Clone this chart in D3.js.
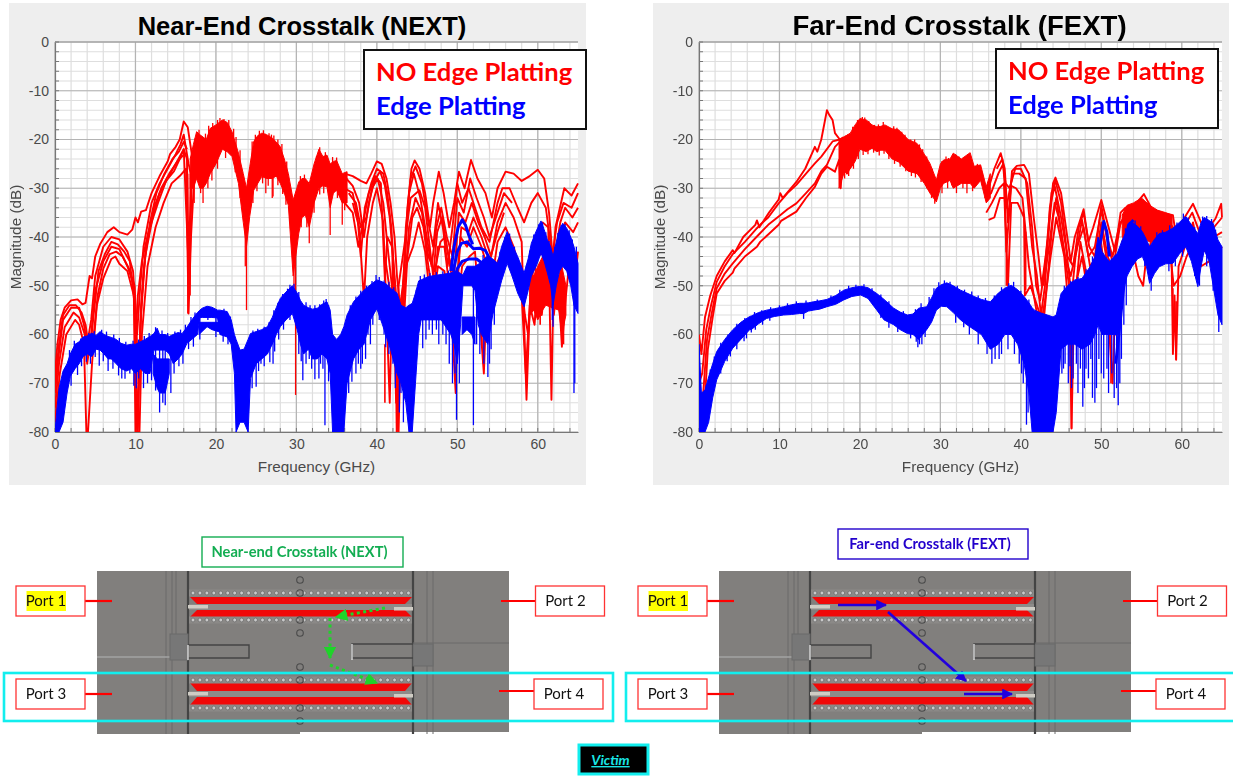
<!DOCTYPE html>
<html><head><meta charset="utf-8">
<script src="https://cdnjs.cloudflare.com/ajax/libs/d3/7.8.5/d3.min.js"></script>
<style>html,body{margin:0;padding:0;background:#fff}svg{display:block;filter:blur(.45px)}</style>
</head><body><div id="c"></div>
<script>
const yTicks=[0,-10,-20,-30,-40,-50,-60,-70,-80];
const xTicks=[0,10,20,30,40,50,60];
const xLabel="Frequency (GHz)", yLabel="Magnitude (dB)";
const legendLabels=["NO Edge Platting","Edge Platting"];
const titles=["Near-End Crosstalk (NEXT)","Far-End Crosstalk (FEXT)"];
const RED="#ff0000",BLUE="#0000ff";

/* ---------- NEXT: individual red traces [GHz, dB] ---------- */
const nextRedA=[[0,-68],[.3,-62],[.7,-57],[1.2,-54.5],[2,-53],[2.8,-52.8],[3.4,-53.8],[3.8,-53.5],[4.3,-48],[4.6,-48.5],[5,-44],[5.6,-41.5],[6.5,-39],[7.3,-38],[8,-39],[9,-39.5],[9.6,-38.5],[10,-36],[10.3,-37],[10.7,-34.8],[11.3,-34.5],[12,-31],[13,-27.5],[14,-24.5],[14.3,-23],[15,-21.5],[15.5,-20],[16,-16.3],[16.5,-17.5],[17,-23],[17.5,-26],[18,-20.5]];
const nextRedB=[[0,-72],[.4,-65],[1,-57],[2,-54.5],[3,-54.5],[3.6,-58],[4,-62],[4.5,-57],[5,-48],[6,-42],[7,-40],[8,-40.5],[9,-43],[9.7,-47],[10.2,-60],[10.6,-50],[11,-42],[12,-33],[13,-29],[14,-26],[15,-23],[15.6,-21],[16,-19],[16.6,-25],[17,-28],[17.6,-21]];
const nextRedC=[[0,-75],[.5,-66],[1.2,-58.5],[2.3,-55.5],[3,-56.5],[3.7,-60],[4,-66],[4.5,-60],[5,-51],[6,-45],[7,-42],[8,-42.5],[9,-46],[9.8,-50],[10.2,-80],[10.7,-56],[11.2,-44],[12.2,-35.5],[13,-31],[14,-28],[15,-25],[16,-22],[16.4,-24],[16.6,-45],[16.9,-30],[17.3,-24]];
const nextRedD=[[0,-78],[.6,-68],[1.4,-60],[2.5,-57],[3,-58],[3.6,-62],[3.9,-80],[4.1,-80],[4.6,-66],[5.2,-54],[6,-48.5],[7,-44.5],[7.5,-44],[8,-45.5],[9,-47],[9.8,-52],[10,-80],[10.5,-80],[10.8,-60],[11.5,-46],[12.5,-38],[13.5,-33],[14.5,-29],[15.5,-27.5],[16.3,-26],[16.6,-55.7],[16.9,-40],[17.3,-28]];
const nextRedE=[[10,-62],[10.3,-52],[10.8,-45],[11.6,-39],[12.8,-33],[13.8,-28.5],[14.8,-26.5],[15.5,-24],[16,-22],[16.7,-50],[17,-27],[17.6,-23]];
const nextRedK=[[0,-70],[.5,-62],[1,-56],[1.8,-54],[2.6,-54],[3.3,-55.5],[3.8,-58],[4.3,-64],[4.8,-56],[5.4,-47],[6.2,-43.5],[7,-41],[7.8,-41.5],[8.6,-43],[9.3,-45],[9.9,-54],[10.3,-80],[10.6,-58],[11,-47],[11.8,-37],[12.6,-31],[13.6,-27],[14.6,-24],[15.4,-22.5],[16,-20.5],[16.4,-22]];
const nextRedL=[[4.7,-62],[5.3,-52],[6,-46.5],[6.8,-43.5],[7.6,-43],[8.4,-44],[9.2,-46.5],[9.9,-50],[10.4,-70],[10.7,-54],[11.3,-42],[12.3,-34],[13.2,-30],[14.2,-27],[15.2,-24.5],[16.1,-23]];
const nextRedF=[[36,-27],[37,-27.5],[38,-28.5],[38.7,-29],[39.3,-27],[40,-24.5],[40.6,-25],[41.2,-28],[41.7,-33],[42.2,-40],[42.5,-48],[43,-56],[43.4,-48],[43.8,-34],[44.3,-26],[44.7,-24.3],[45.3,-26],[46,-31],[46.6,-38],[47,-33],[47.7,-26.6],[48.3,-31],[49,-38],[49.6,-33],[50.2,-26.6],[50.9,-30],[51.7,-24.2],[52.5,-28],[53.5,-31],[54.3,-36],[55,-30],[56,-26.6],[57,-27],[58,-28.5],[59,-27.5],[60,-26.2],[60.8,-28],[61.4,-35],[61.9,-45],[62.2,-38],[63.3,-30],[64.2,-31.5],[65,-29]];
const nextRedG=[[36,-30],[37,-31],[37.6,-36],[38,-44],[38.5,-34],[39.3,-29],[40,-26],[40.8,-27],[41.3,-31],[41.8,-38],[42.4,-55],[42.7,-80],[43,-60],[43.6,-38],[44.2,-28],[44.8,-25.5],[45.6,-29],[46.4,-37],[47,-42],[47.6,-33],[48.2,-38],[48.8,-46],[49.4,-38],[50,-29],[50.6,-33],[51.4,-30],[52.2,-34],[53,-38],[54,-41],[55,-33],[55.6,-30],[56.5,-30],[57.5,-34],[58.3,-37],[59.2,-33],[60,-31],[61,-34],[61.8,-44],[62.4,-37],[63.2,-33],[64.2,-34],[65,-31]];
const nextRedH=[[36,-33],[37,-35],[37.7,-42],[38.3,-37],[39,-31],[39.8,-27.5],[40.5,-29],[41,-48.8],[41.3,-40],[41.9,-42],[42.4,-74],[42.7,-50],[43.4,-42],[44.2,-32],[45.3,-30.4],[46,-34],[46.5,-41],[47,-48],[47.5,-39],[48.1,-36],[48.8,-43],[49.6,-48],[50.2,-35],[51,-37],[51.8,-33],[52.6,-37],[53.4,-40],[54.2,-44],[55,-37],[56,-33],[57,-36],[58,-41],[58.6,-73.4],[59.1,-50],[59.8,-40],[60.6,-37],[61.3,-38],[61.7,-73.4],[62,-45],[62.8,-37],[63.4,-34],[64.3,-36],[65,-34]];
const nextRedI=[[37,-33],[37.8,-38],[38.4,-52.9],[38.8,-40],[39.5,-33],[40,-30],[40.8,-37],[41.3,-60],[41.6,-74],[42,-45],[42.6,-60],[43.2,-62],[43.8,-44],[44.4,-36],[45,-34],[45.8,-38],[46.4,-46],[47,-52],[47.6,-42],[48.4,-42],[49,-50],[49.8,-56],[50.4,-40],[51.2,-42],[52,-38],[53,-42],[53.7,-46],[54.4,-48],[55,-41],[56,-38],[57,-42],[57.8,-47],[58.4,-56],[58.8,-60],[59.4,-47],[60,-44],[60.8,-43],[61.5,-47],[62,-50],[62.6,-41],[63.4,-37],[64.4,-39],[65,-37]];
const nextRedJ=[[41,-44],[41.7,-52],[42.3,-58],[42.5,-80],[42.8,-55],[43.6,-46],[44.5,-42],[45.2,-37],[46,-43],[46.8,-55],[47.6,-46],[48.4,-47],[49,-55],[49.4,-60],[49.8,-72],[50,-55],[50.6,-46],[51.5,-44],[52.2,-43],[53.3,-68],[53.7,-50],[54.4,-52],[55,-45],[56,-42],[57,-46],[58,-52],[58.5,-68],[59,-54],[59.6,-58],[60,-49],[60.5,-56],[61,-48],[61.5,-52],[62,-56],[62.5,-48],[63,-62.5],[63.5,-52],[64,-44],[64.8,-46],[65,-43]];
const nextRedM=[[36.2,-28],[37,-29.5],[37.8,-33],[38.4,-40],[39,-33],[39.7,-28.5],[40.4,-26.5],[41,-29.5],[41.6,-36],[42.1,-46],[42.4,-52],[42.9,-58],[43.5,-44],[44,-31],[44.6,-27],[45.4,-32],[46.2,-40],[46.8,-46],[47.4,-38],[48,-34],[48.7,-40],[49.4,-44],[50,-32],[50.8,-35],[51.6,-28],[52.4,-32],[53.3,-36],[54,-40],[55,-35],[55.8,-31],[56.8,-33]];
const nextRedN=[[36.5,-31],[37.4,-33],[38,-38],[38.7,-36],[39.4,-30],[40.1,-28],[40.8,-33],[41.4,-43],[42,-52],[42.8,-62],[43.4,-52],[44,-38],[44.8,-32],[45.6,-35],[46.4,-44],[47.2,-47],[47.9,-41],[48.5,-40],[49.2,-47],[49.8,-52],[50.5,-38],[51.4,-39],[52,-36],[53,-40],[54,-45],[55,-39],[55.8,-35]];

/* ---------- NEXT: red dense band [GHz, upper, lower] ---------- */
const nextRedBand=[[16.8,-24,-30],[17.2,-21,-30],[17.6,-18.4,-28],[18,-19,-30],[18.4,-19.5,-30],[18.8,-20,-29],[19.3,-17.7,-27],[20,-17,-25],[20.8,-16,-22],[21.4,-16.5,-22.5],[22,-18.4,-23.5],[22.8,-22.8,-29],[23.4,-27,-37],[23.8,-30,-42],[24.2,-25.6,-35.8],[24.7,-20.4,-30.4],[25.2,-19.2,-29],[25.7,-18.7,-27.6],[26.3,-19,-28],[27,-19.7,-28],[27.5,-20.5,-27.5],[28,-21.5,-29],[28.5,-24,-31],[29,-27,-33.5],[29.6,-32.4,-48],[30.3,-28.7,-39.2],[30.7,-28,-36],[31.1,-28,-35.5],[31.6,-29,-38],[32.2,-25,-33],[32.8,-22,-30],[33.3,-23.5,-29.5],[33.8,-23.2,-29.7],[34.2,-25,-34],[34.6,-24.5,-31],[35,-24.3,-30.4],[35.7,-27,-33],[36.3,-26.6,-33]];
const nextRedPatch=[[59,-47,-56],[59.5,-48,-55],[60,-46,-57],[60.6,-44,-55],[61,-46,-54],[62.6,-48,-55],[63,-46,-60],[63.5,-50,-56]];
const nextRedSpikes=[[16.5,-55.7],[16.8,-52],[23.8,-55],[23.65,-46],[29.9,-72.4],[29.7,-56],[31.6,-41.3],[34.2,-39.6],[35.7,-37.5],[18.4,-33],[27,-32],[41,-74],[59.2,-55],[60.3,-58],[60.8,-54],[59.7,-57],[63.2,-62],[62.8,-55],[53.2,-66],[42.45,-80],
[17.4,-19.8],[17.9,-18],[18.3,-22.9],[18.7,-18.8],[19.1,-17.2],[19.6,-16.6],[20.2,-16],[20.5,-15.6],[21,-15.8],[21.6,-16],[22.2,-17.8],[22.5,-19.5],[23,-22.2],[24.5,-20.4],[24.9,-19],[25.4,-18.2],[25.9,-18.1],[26.1,-18.8],[26.6,-18.7],[26.9,-19],[27.2,-19.2],[27.7,-20],[28.2,-20.9],[28.8,-24.5],[30.5,-27.5],[31,-27.2],[32.5,-23.4],[32.9,-21.6],[33.6,-22.6],[34.5,-23.6],[35,-23.7],
[17.3,-33],[18.1,-31],[19,-30],[19.5,-28.4],[20.2,-26],[21.2,-23.8],[22.4,-26.7],[23,-32],[24.6,-33],[25.1,-30.6],[25.8,-29],[26.2,-31],[26.5,-29.5],[27.1,-31.7],[27.7,-29.4],[28.3,-31.2],[28.7,-33.4],[29.2,-37],[30.6,-38],[31.3,-38],[32.2,-35],[32.9,-31.3],[33.4,-31],[34,-31.5],[35.1,-32],[36,-34.5]];

/* ---------- NEXT: blue dense band ---------- */
const nextBlueBand=[[0,-80,-80],[.2,-76,-80],[.5,-71,-80],[1,-67.5,-78],[1.5,-66,-72],[1.9,-64,-68.6],[2.5,-62,-67],[3,-61.5,-66],[3.5,-60.5,-64.5],[4,-60.3,-64],[4.6,-59.7,-64.5],[5.1,-60.2,-63],[5.6,-59.4,-63.2],[6.1,-60,-64],[6.6,-60.4,-65],[7,-60.6,-65],[7.6,-61,-66],[8.2,-61.8,-67],[8.9,-62.2,-67.5],[9.5,-62,-67],[10,-62,-68],[10.6,-61.5,-67],[11.2,-61,-68],[11.8,-60.4,-68],[12.3,-59.8,-63.2],[12.7,-58.7,-63.2],[13,-60,-63.2],[13.7,-60,-63.2],[14.2,-60.4,-64],[14.7,-60,-66],[15.3,-59.6,-65],[15.8,-59.8,-64],[16.4,-58.5,-61.8],[17,-57,-61],[17.7,-55.5,-60],[18,-55,-56.5],[18.3,-54.6,-56.5],[18.9,-54.2,-56.5],[19.5,-54.4,-56.5],[20.2,-55,-56.6],[20.5,-55,-60],[21.4,-55.3,-60.5],[21.9,-57,-62],[22.3,-60,-68],[22.5,-61,-80],[23,-63.2,-78],[23.5,-63,-78],[24,-61,-80],[24.3,-59.8,-69],[25,-59.4,-66],[25.7,-59,-65],[26.4,-58.4,-64],[27,-56.5,-62],[27.5,-54.5,-60],[28,-52.6,-58.4],[28.7,-51.3,-57],[29.5,-50,-55.7],[30.1,-51.5,-59],[30.5,-53,-62],[30.9,-54,-64],[31.5,-54.5,-63],[32,-54.8,-65],[32.6,-54.6,-65],[33.2,-53.8,-64],[33.8,-53.3,-65],[34.2,-55,-68],[34.5,-60,-80],[35,-61,-80],[35.5,-60,-80],[35.9,-58.4,-80],[36.3,-56,-70],[37.1,-53.3,-65],[37.8,-52,-63],[38.4,-50.9,-62],[39.2,-49.8,-57],[40,-48.8,-54.7],[40.7,-49.2,-58],[41.3,-49.8,-61],[41.7,-50.5,-63],[42.5,-51.5,-68],[43,-54,-70],[43.6,-54.5,-74],[44,-54,-80],[44.4,-53.6,-80],[44.8,-51.5,-70],[45.2,-49,-60],[45.5,-48.8,-57],[46.3,-48.2,-57],[47.1,-47.9,-57],[48,-47.7,-57],[49.2,-47.4,-60],[49.6,-47,-62],[50,-47,-66],[50.4,-47.5,-58],[50.7,-47.8,-50],[51.2,-46,-50],[51.8,-46,-50],[52.2,-46,-51],[52.6,-45.6,-58],[53,-45,-60],[53.8,-43.8,-62],[54.4,-44.5,-56],[55,-45.4,-52.2],[55.5,-42,-49],[56.2,-38.9,-45.4],[56.8,-41.5,-48],[57.5,-44,-51.5],[58.3,-47.4,-54.3],[58.8,-44.5,-51],[59.2,-41.3,-48],[59.8,-38.8,-46],[60.4,-36.7,-43.3],[60.8,-38.5,-45],[61.2,-40.6,-47.4],[61.6,-42,-50],[61.9,-44,-54],[62.3,-41,-50],[62.7,-38.5,-47],[63.1,-37.2,-46],[63.6,-38.2,-47],[64.1,-40,-50],[64.5,-42,-54],[65,-45.4,-55.7]];
const nextBlueBandHoleA=[[12.2,-64,-68],[12.7,-65,-71],[13,-65,-72],[13.7,-65,-72],[14.2,-65,-68]];
const nextBlueBandHoleB=[[17.9,-57.5,-60],[18.9,-57.5,-58.4],[19.5,-57.5,-59],[20.5,-57.5,-59.5]];
const nextBlueBandHoleC=[[50.6,-56.4,-60],[51.2,-56.4,-59],[51.8,-56.4,-60],[52.2,-56.4,-62]];
const nextBlueSpikes=[[6.6,-67.5],[8.3,-69],[10.1,-71],[11,-71],[13,-76],[13.7,-74.5],[14.4,-72],[19,-57],[25.6,-66],[25,-70.7],[27.1,-66],[30.8,-69.4],[31.9,-67],[32.8,-69],[33.55,-78.6],[36.9,-69.7],[38.2,-66],[39.2,-62],[42.8,-76],[43.3,-78],[49.9,-77.5],[50.25,-70],[52,-78.6],[53.8,-68.7],[61.9,-58.4],[64.5,-72],[61.8,-57],[64.6,-70],
[2,-70.5],[2.8,-68.3],[3.3,-66.5],[3.9,-65.6],[4.4,-66],[5,-64.6],[5.5,-66.4],[6,-65.5],[7.2,-67],[7.9,-68.4],[8.7,-69.1],[9.3,-68],[9.8,-70.5],[10.4,-69],[11.5,-70],[12,-69.4],[12.5,-71.5],[13.4,-74],[14.8,-68],[15.4,-66.5],[15.9,-66],[16.6,-63],[17.2,-62.5],[18,-61],[20,-60.5],[20.9,-61.5],[21.5,-62],[24.5,-71],[25.3,-67.5],[26,-66.5],[26.7,-65.7],[27.3,-63.5],[27.8,-61],[28.4,-59],[29.2,-57],[30.3,-64],[30.6,-65.5],[31.2,-66],[31.6,-65],[32.3,-69.2],[33,-66],[33.3,-67],[34,-69.6],[36.5,-72],[37.4,-68],[37.7,-66],[38,-67],[38.6,-65],[38.9,-60],[39.5,-58],[40.3,-57],[40.9,-60],[41.1,-62.6],[41.5,-64],[42,-66],[42.3,-71],[43,-72],[45,-62],[45.7,-62.8],[46.1,-61],[46.5,-59],[46.9,-60],[47.4,-59],[47.7,-62],[48.2,-60],[48.6,-62],[49,-66],[49.4,-70],[49.7,-68],[52.4,-62],[52.8,-64],[53.3,-66],[54,-66],[54.2,-63],[54.6,-58],
[1.8,-63.2],[2.4,-61.3],[3.2,-60.8],[4.2,-59.7],[4.9,-59.3],[5.8,-59],[6.4,-59.4],[7.3,-60],[8,-60.7],[8.8,-61.5],[9.7,-61.3],[10.4,-61],[11.1,-60.3],[11.7,-59.7],[12.5,-58.5],[13.3,-59.2],[14,-59.7],[14.9,-59.4],[15.6,-59],[16.2,-58],[16.9,-56.4],[17.4,-55.5],[21,-54.7],[21.8,-56.3],[24.6,-59.2],[25.2,-58.8],[26,-58.4],[26.6,-57.5],[27.2,-55],[27.7,-53.5],[28.3,-51.7],[28.9,-50.6],[29.2,-49.8],[29.7,-49.6],[30.3,-51.3],[31.2,-53.4],[31.7,-54],[32.3,-54],[32.9,-53.8],[33.4,-53],[33.7,-52.7],[34,-54],[36.7,-54],[37.4,-52.2],[38,-51],[38.7,-50],[39.4,-49],[39.9,-47.8],[40.3,-48.2],[40.9,-48.9],[41.5,-49.2],[42.1,-50.3],[44.9,-50.8],[45.4,-48],[45.9,-47.7],[46.6,-47.4],[47.4,-47.2],[48.2,-47],[48.9,-46.9],[53.2,-43.7],[55.3,-43],[55.9,-40],[56.5,-39.3],[57.1,-42],[58.6,-45.8],[59,-42.8],[59.5,-39.5],[60.1,-37.4],[60.6,-37],[61,-39],[61.4,-40.8],[62.1,-42],[62.5,-39.2],[62.9,-37.6],[63.4,-37.4],[63.9,-38.6],[64.3,-40.5],[64.8,-42]];
const nextBlueStrandA=[[49.2,-47],[49.6,-42],[50.1,-38],[50.6,-36.5],[51,-37.5],[51.4,-39.5],[51.9,-41.5]];
const nextBlueStrandB=[[49.5,-47],[50,-43],[50.5,-41.3],[51.2,-41],[52,-42.4],[52.8,-42.3],[53.5,-42.8],[54.2,-45],[55,-46]];
const nextBlueStrandC=[[49.5,-50],[50,-46.5],[50.6,-45],[51.5,-44.5],[52.4,-44.5],[53.2,-45.5],[54,-47],[55,-49]];

/* ---------- FEXT: red traces ---------- */
const fextRedA=[[0,-60],[.3,-64],[.75,-56.4],[1.4,-52],[2.2,-48],[3.2,-45],[4.2,-42.7],[4.4,-43.3],[5.5,-40],[7,-37.5],[7.2,-36.6],[7.5,-38],[8.7,-35],[9.9,-32.3],[10.1,-31],[10.4,-32],[12.1,-28.7],[13.2,-26],[14.4,-21.5],[14.7,-22.5],[15.2,-20],[15.9,-14],[16.2,-15],[16.6,-16],[16.9,-18.7],[17.5,-20]];
const fextRedB=[[0,-70],[.4,-68],[.9,-59],[1.5,-54],[2.2,-49.2],[3.2,-46],[4.2,-43.5],[5.7,-41],[7.2,-38.2],[7.6,-37.5],[8.6,-36],[9.9,-33.1],[11,-31],[12.1,-29.3],[13.3,-27],[14.4,-24.9],[15.2,-23.5],[16.6,-20.4],[17.5,-20],[18,-19.5]];
const fextRedC=[[.4,-75],[1,-61],[1.6,-55.5],[2.2,-50.5],[3.2,-47.5],[4.2,-45.4],[5.7,-42.5],[7.2,-39.9],[8.6,-37.5],[9.9,-35.8],[11,-34.3],[12.1,-33.1],[13.3,-31],[14.4,-29],[15.2,-26.5],[15.9,-25.2],[16.9,-21.5],[17.5,-20.5],[18,-22]];
const fextRedD=[[.5,-80],[1.1,-63],[1.7,-56.5],[2.2,-51.6],[3.2,-49],[4.2,-47.3],[4.4,-46.5],[5.7,-44],[7.2,-42],[7.6,-41],[8.6,-39.5],[9.9,-37.5],[10.2,-36.7],[12.1,-34.8],[13.3,-32],[14.4,-29.7],[15.2,-27],[15.9,-25.6],[16.9,-26.6],[17.4,-24.2],[17.6,-30],[17.9,-24],[18.4,-27],[19,-25],[19.5,-22]];
const fextRedE=[[36,-30],[36.7,-26],[37.5,-22.8],[38,-26],[38.4,-37],[38.9,-26.5],[39.5,-25.4],[40.4,-25.2],[41,-27],[41.6,-36],[42.2,-44],[42.6,-50],[43.4,-40],[44,-29],[44.3,-27.8],[45,-31],[45.6,-38],[46.2,-45],[46.7,-40],[47.8,-34.3],[48.4,-41],[49,-38],[50,-32.4],[50.9,-38],[51.7,-43],[52.4,-35],[53,-34],[54.2,-33.4],[55.3,-31.2],[56.3,-34.3],[57.5,-35],[58.9,-35.5],[59.3,-40],[60.2,-36.4],[61.4,-33.2],[62.4,-37],[63.4,-38],[64.2,-36.2],[64.9,-33.2],[65,-36]];
const fextRedF=[[35.5,-32],[36.3,-31],[37.2,-27],[37.8,-25],[38.2,-34],[39,-27],[39.8,-27],[40.6,-28],[41.4,-42],[42,-48],[42.5,-56],[43,-50],[43.6,-34],[44.2,-29.5],[45,-36],[45.6,-42],[46.3,-52],[46.8,-44],[47.6,-36.5],[48.4,-44],[49.2,-42],[50,-34.5],[50.8,-41],[51.5,-46],[52.4,-37],[53.2,-36],[54.2,-34.5],[55.2,-32.5],[56,-35],[57.2,-36],[58.4,-37],[58.9,-38],[59.6,-42],[60.6,-37],[61.3,-35],[62.2,-39],[63,-40],[64,-38],[65,-36]];
const fextRedG=[[35.7,-35],[36.4,-33],[37.3,-30],[37.9,-29],[38.2,-43],[38.8,-29.5],[39.4,-30],[40.2,-32],[41,-46],[42,-55.7],[42.8,-58],[43.4,-47],[44,-36],[44.4,-32],[45.2,-41],[46,-50],[46.3,-79.3],[46.6,-55],[47.4,-41],[48.2,-48],[49.2,-46],[50,-37],[50.8,-44],[51.7,-48],[52,-58],[52.6,-41],[53.3,-38],[54.2,-36],[55.4,-34],[56.4,-38],[57.5,-38],[58.7,-40],[58.9,-64],[59.1,-52],[59.3,-65.2],[59.6,-46],[60.4,-42],[61.4,-37],[62,-42],[63,-43],[64,-40],[65,-39]];
const fextRedH=[[36,-36.5],[36.7,-36],[37.4,-32],[38,-32],[38.4,-50],[38.8,-33],[39.6,-33],[40.4,-36],[40.5,-52],[41.2,-50],[42.6,-57],[43,-53],[43.7,-44],[44.4,-36],[45.4,-44],[46,-56],[46.4,-64],[46.8,-50],[47.6,-44],[48.4,-52],[49.4,-50],[49.9,-40],[50.6,-50],[51.4,-70],[51.6,-60],[52,-60],[53,-46],[53.8,-42],[54.6,-48],[55.2,-50],[55.6,-44],[56.4,-40],[57.5,-41],[58.6,-44],[59,-50],[59.8,-48],[60.6,-44],[61.5,-41],[62.4,-46],[63.4,-45],[65,-42]];
const fextRedI=[[37,-26],[37.7,-24],[38.1,-29],[38.6,-30],[39.3,-26],[40,-26],[40.8,-29],[41.4,-38],[41.9,-50],[42.4,-53],[43,-46],[43.8,-31],[44.3,-28.5],[45,-33],[45.8,-44],[46.5,-46],[47.2,-38],[47.8,-35],[48.5,-42],[49.2,-44],[50,-33.5],[50.7,-40],[51.4,-44],[52.2,-38],[53,-35],[54,-34],[55,-33],[55.6,-33],[56.6,-35]];
const fextRedJ=[[42.8,-50],[43.5,-42],[44.2,-33],[44.7,-36],[45.5,-44],[46.2,-48],[47,-42],[47.8,-38],[48.6,-46],[49.5,-44],[50.1,-39],[50.9,-47],[51.8,-50]];
const fextRedBand=[[17.4,-20,-30],[18,-19.5,-27],[18.8,-18.7,-26],[19.4,-17,-24.5],[20,-15.7,-22],[20.8,-16,-22.5],[21.5,-17,-21.8],[22.1,-17.4,-22.5],[22.6,-17.3,-22.2],[23.1,-17,-22.2],[24,-17.8,-24],[24.8,-18,-24.6],[26,-20,-26.5],[27.1,-20.8,-27],[28,-23,-29],[28.7,-24.9,-31],[29.5,-28.3,-32.8],[30,-25,-30],[30.4,-24.2,-29],[31.2,-24,-28.4],[31.6,-22.8,-30],[32.6,-24,-29],[33.7,-22.7,-29],[34.2,-25.5,-30],[35,-25.2,-28.4],[35.7,-29.7,-33],[36.2,-27,-32]];
const fextRedBandHigh=[[52.6,-35.5,-40],[53.2,-33.5,-41],[54,-33,-40],[55,-32,-40],[56,-33.5,-41],[57,-34.5,-41],[58,-35,-41],[58.8,-35.5,-41]];
const fextRedSpikes=[[17.6,-30],[38.2,-50],[40.6,-50.9],[46.3,-79.3],[51.2,-70],[58.9,-62.5],[59.3,-65.2],[52,-58],
[18.2,-19.2],[18.5,-18.9],[19.1,-17.4],[19.7,-16],[20.3,-15.4],[20.6,-15.5],[21.1,-16.2],[21.8,-17],[22.3,-16.9],[22.9,-16.4],[23.4,-17.5],[24.2,-17.3],[24.6,-17.6],[25.2,-18.4],[25.6,-19],[26.3,-20],[26.8,-20],[27.4,-21],[27.8,-22],[28.3,-23.5],[29,-26],[30.2,-24.4],[30.7,-23.5],[31,-23.8],[31.9,-23],[32.3,-23.5],[33,-24],[33.4,-23],[34.6,-25],
[18.1,-28],[18.6,-27.5],[19.2,-26],[19.8,-24],[20.4,-23.2],[21,-23],[21.7,-22.7],[22.4,-23.3],[23,-22.9],[23.6,-24],[24.3,-25],[25,-25.6],[25.7,-26.5],[26.4,-27.5],[26.9,-27.8],[27.6,-28.7],[28.3,-30],[28.9,-32],[29.3,-33.2],[30.2,-31],[30.9,-30],[31.4,-29.4],[32,-31],[32.8,-30],[33.3,-31],[34,-30.6],[35.2,-29.4]];
const fextBlueBand=[[0,-62,-80],[.3,-72,-80],[.75,-71.4,-80],[1.2,-68.7,-78],[1.7,-66,-73],[2.2,-63.5,-69.3],[3.2,-61,-65.5],[4.2,-59,-62.8],[5.2,-57.5,-61],[6.3,-56.3,-59],[6.5,-56.2,-59],[7.4,-55.5,-57.8],[8.4,-55,-56.7],[9.4,-54.7,-56.3],[10.5,-54.3,-56],[11.5,-53.9,-55.9],[12.5,-53.6,-55.7],[13,-53.6,-55.7],[13.6,-53.5,-55.2],[14.2,-53.3,-55],[15,-53.1,-54.8],[15.9,-52.8,-54.3],[17,-52,-53.8],[18,-50.9,-52.9],[19,-50.4,-52.2],[20.1,-50.1,-51.9],[21,-50.4,-52.6],[22.1,-51.6,-55],[23,-52.8,-57],[24.2,-54.6,-58],[25,-55.4,-59],[25.9,-56,-59.8],[26.6,-55.8,-60],[27.3,-54.6,-61],[28.3,-54.3,-59],[28.9,-52.5,-57.5],[29.5,-50.5,-55],[30.1,-49.8,-54.2],[30.8,-49.4,-54.3],[31.6,-50,-55.5],[32.5,-50.9,-57],[33.3,-51.5,-58],[34.2,-52.2,-59],[35.1,-52.8,-60],[36.2,-53.3,-63],[37.2,-51.5,-62],[38,-50.5,-60],[38.8,-49.9,-60],[39.6,-50.8,-62],[40.4,-52.2,-66],[41,-53.5,-72],[41.4,-54.5,-80],[41.7,-55,-80],[42.5,-55.6,-80],[43.3,-56,-80],[44,-56.4,-80],[44.4,-56,-76],[45,-51.6,-63],[45.8,-50,-62],[46.7,-48.8,-62],[47.6,-48.5,-63],[48.6,-46.1,-62],[49.2,-44,-60],[49.6,-40,-58],[50.1,-43,-60],[50.5,-44,-60],[51,-45,-60],[52,-43.3,-60],[52.6,-40.6,-52],[53.2,-38.5,-48],[53.8,-36.9,-46.1],[54.5,-37.8,-44.5],[55.1,-38.9,-44],[55.6,-40.5,-46],[56,-42,-49.5],[56.6,-40.5,-47.5],[57.2,-39.3,-46.1],[58,-39,-45.5],[58.9,-38.2,-45.4],[59.7,-37,-43.5],[60.5,-35.8,-42],[61.2,-37.5,-45],[62,-39.3,-50.2],[62.4,-37,-46],[62.8,-36,-42.7],[63.4,-36.6,-45],[63.9,-37.2,-50],[64.5,-40.6,-56],[65,-42,-58]];
const fextBlueSpikes=[[6.5,-59.6],[13,-56.8],[27.2,-62.6],[27.4,-62],[36.4,-66],[37.3,-65],[40.7,-78.5],[40.9,-76],[42,-80],[43,-80],[45.3,-67],[46.3,-71],[47.7,-74.8],[48.9,-73],[49.2,-74],[52.1,-74.5],[63.9,-51],[64.6,-59.5],
[45.1,-68],[45.5,-66],[45.9,-70],[46.1,-66.5],[46.5,-69],[46.9,-66],[47.1,-72],[47.4,-67],[47.9,-71],[48.1,-67],[48.4,-69],[48.7,-65],[49.4,-71],[49.7,-65],[50,-68],[50.3,-69],[50.7,-67],[50.9,-72],[51.3,-68],[51.6,-73],[51.9,-71],[52.3,-70],[52.5,-65],[52.8,-58],[53.1,-54],[39.2,-64],[39.8,-66],[40.1,-68],[40.3,-70],[35.8,-64],[36.8,-65],[37.6,-64],[38.4,-63],[34.7,-62],[33.6,-60],[32.9,-58.5],[31.9,-57.6],[26.3,-60.8],[27,-61.5],[27.7,-62],[28.1,-60.5],[24.7,-59.5],[23.6,-58.6],[22.6,-56.6],[1.9,-70],[2.7,-68],[3.5,-65.5],[3.9,-64.5],[4.7,-63],[5.6,-61.4],[5.9,-60.8],[7,-59],[7.9,-58],[8.8,-57.2],[55.4,-46],[56.2,-51],[58.4,-47],[59.2,-46],[60.1,-44],[61.6,-48],[62.2,-50],[63.1,-46],
[.9,-70.4],[1.4,-67.2],[1.9,-64.5],[2.7,-61.7],[3.6,-60],[4.7,-57.8],[5.7,-56.6],[6.9,-55.4],[7.8,-55],[8.9,-54.4],[10,-54],[11,-53.6],[12.1,-53.2],[13.3,-53],[14.7,-52.8],[16.4,-52],[17.5,-50.8],[18.6,-50],[19.5,-49.8],[20.5,-49.7],[21.5,-50.5],[22.6,-51.8],[23.6,-53.2],[25.4,-55.2],[26.9,-54.8],[27.6,-53.6],[28.6,-52.3],[29.2,-50.5],[29.8,-49.3],[30.5,-48.9],[31.2,-49.2],[32.1,-50],[33,-50.8],[33.9,-51.2],[34.7,-52],[35.6,-52.5],[36.7,-52],[37.6,-50.3],[38.5,-49.5],[39.1,-49.2],[40,-51],[41,-52.8],[45.4,-50],[46.2,-49],[47.1,-48.2],[48.1,-46.6],[48.9,-44],[53,-38.2],[53.5,-37],[54.2,-36.6],[54.9,-37.8],[56.9,-39],[57.6,-38.6],[58.5,-37.6],[59.4,-37],[60.2,-35.2],[60.8,-36],[61.6,-38],[62.6,-35.8],[63.1,-35.7],[63.7,-36.3],[64.2,-38.5]];
const fextBlueStrandA=[[49.4,-46],[49.9,-41],[50.3,-36.8],[50.7,-39],[51,-44]];
const fextBlueStrandB=[[51.4,-60],[51.9,-54],[52.4,-47],[52.9,-41],[53.4,-37.5],[54,-36.5]];
const fextBlueStrandC=[[51.8,-66],[52.3,-58],[52.8,-50],[53.2,-44],[53.8,-40],[54.4,-39.5]];

/* ---------- Picture layout ---------- */
const W=1233,H=776;
const svg=d3.select("#c").append("svg").attr("width",W).attr("height",H).attr("viewBox",[0,0,W,H]);
const FONT="'Liberation Sans',Arial,sans-serif", CAL="Lato,'Open Sans',sans-serif";

function chart(o,i){
  const g=svg.append("g");
  g.append("rect").attr("x",o.panel[0]).attr("y",o.panel[1]).attr("width",o.panel[2]).attr("height",o.panel[3]).attr("fill","#eeeeee");
  const x=d3.scaleLinear().domain([0,65]).range([o.l,o.r]);
  const y=d3.scaleLinear().domain([0,-80]).range([42,432]);
  g.append("rect").attr("x",o.l).attr("y",42).attr("width",o.r-o.l).attr("height",390).attr("fill","#fff");
  const minorX=d3.range(0,66,2), minorY=d3.range(0,-81,-2);
  g.append("g").selectAll("line").data(minorX).join("line").attr("x1",x).attr("x2",x).attr("y1",42).attr("y2",432).attr("stroke","#dedede").attr("stroke-width",1.2);
  g.append("g").selectAll("line").data(minorY).join("line").attr("y1",y).attr("y2",y).attr("x1",o.l).attr("x2",o.r).attr("stroke","#dedede").attr("stroke-width",1.2);
  g.append("g").selectAll("line").data(xTicks).join("line").attr("x1",x).attr("x2",x).attr("y1",42).attr("y2",432).attr("stroke","#b4b4b4").attr("stroke-width",1.2);
  g.append("g").selectAll("line").data(yTicks).join("line").attr("y1",y).attr("y2",y).attr("x1",o.l).attr("x2",o.r).attr("stroke","#b4b4b4").attr("stroke-width",1.2);

  const axB=g.append("g").attr("transform","translate(0,432)").call(d3.axisBottom(x).tickValues(xTicks).tickFormat(String).tickSize(0).tickPadding(7));
  const axL=g.append("g").attr("transform",`translate(${o.l},0)`).call(d3.axisLeft(y).tickValues(yTicks).tickFormat(String).tickSize(0).tickPadding(6));
  [axB,axL].forEach(a=>{a.selectAll("text").attr("font-family",FONT).attr("font-size",14).attr("fill","#4a4a4a");a.select(".domain").attr("stroke","#777").attr("stroke-width",1.2)});
  g.append("path").attr("d",`M${o.l},42H${o.r}`).attr("stroke","#999").attr("fill","none");
  g.append("g").selectAll("line").data(minorX).join("line").attr("x1",x).attr("x2",x).attr("y1",428).attr("y2",432).attr("stroke","#777");
  g.append("g").selectAll("line").data(minorY).join("line").attr("y1",y).attr("y2",y).attr("x1",o.l).attr("x2",o.l+4).attr("stroke","#777");

  const clipId="clip"+i;
  g.append("clipPath").attr("id",clipId).append("rect").attr("x",o.l).attr("y",42).attr("width",o.r-o.l+1).attr("height",390);
  const plot=g.append("g").attr("clip-path",`url(#${clipId})`);
  const line=d3.line().x(d=>x(d[0])).y(d=>y(d[1]));
  const area=d3.area().x(d=>x(d[0])).y0(d=>y(d[1])).y1(d=>y(d[2]));
  const drawBand=(b,c)=>plot.append("path").attr("d",area(b)).attr("fill",c).attr("stroke",c).attr("stroke-width",1).attr("stroke-linejoin","round");
  const drawLine=(l,c,w)=>plot.append("path").attr("d",line(l)).attr("fill","none").attr("stroke",c).attr("stroke-width",w).attr("stroke-linejoin","round");
  const drawSpikes=(s,b,c)=>plot.append("g").selectAll("path").data(s).join("path").attr("d",d=>{
      const row=d3.least(b,r=>Math.abs(r[0]-d[0]));
      return line([[d[0],(row[1]+row[2])/2],[d[0],d[1]]]);
    }).attr("stroke",c).attr("stroke-width",1.3).attr("fill","none");

  o.redBands.forEach(b=>drawBand(b,RED));
  o.redLines.forEach(l=>drawLine(l,RED,1.9));
  drawSpikes(o.redSpikes.filter(s=>s[0]<36.5),o.redBands[0],RED);
  plot.append("g").selectAll("path").data(o.redSpikes.filter(s=>s[0]>=36.5)).join("path").attr("d",d=>line([[d[0],d[1]+12],[d[0],d[1]]])).attr("stroke",RED).attr("stroke-width",1.6).attr("fill","none");
  o.blueBands.forEach(b=>drawBand(b,BLUE));
  drawSpikes(o.blueSpikes,o.blueBands[0],BLUE);
  o.blueStrands.forEach(l=>drawLine(l,BLUE,3));

  g.append("text").text(o.title).attr("x",o.tx).attr("y",o.ty).attr("text-anchor","middle").attr("font-family",FONT).attr("font-weight","700").attr("font-size",o.tfs).attr("fill","#000");
  g.append("text").text(xLabel).attr("x",(o.l+o.r)/2).attr("y",472).attr("text-anchor","middle").attr("font-family",FONT).attr("font-size",15.3).attr("fill","#4a4a4a");
  g.append("text").text(yLabel).attr("transform",`translate(${o.l-34},237) rotate(-90)`).attr("text-anchor","middle").attr("font-family",FONT).attr("font-size",15.3).attr("fill","#4a4a4a");

  const lg=o.legend;
  g.append("rect").attr("x",lg[0]).attr("y",lg[1]).attr("width",lg[2]).attr("height",lg[3]).attr("fill","#fff").attr("stroke","#111").attr("stroke-width",2);
  g.append("text").text(legendLabels[0]).attr("x",lg[0]+12).attr("y",lg[1]+31).attr("font-family",CAL).attr("font-weight","700").attr("font-size",25.6).attr("fill",RED);
  g.append("text").text(legendLabels[1]).attr("x",lg[0]+12).attr("y",lg[1]+65).attr("font-family",CAL).attr("font-weight","700").attr("font-size",25.6).attr("fill",BLUE);
}

chart({panel:[9,3,577,482],l:55,r:578,tx:302,ty:35,tfs:25.5,legend:[364,50,222,79],title:titles[0],
  redBands:[nextRedBand,nextRedPatch],redLines:[nextRedA,nextRedB,nextRedC,nextRedD,nextRedE,nextRedK,nextRedL,nextRedF,nextRedG,nextRedH,nextRedI,nextRedJ,nextRedM,nextRedN],redSpikes:nextRedSpikes,
  blueBands:[nextBlueBand,nextBlueBandHoleA,nextBlueBandHoleB,nextBlueBandHoleC],blueSpikes:nextBlueSpikes,blueStrands:[nextBlueStrandA,nextBlueStrandB,nextBlueStrandC]},0);
chart({panel:[653,3,576,482],l:699,r:1222,tx:959.5,ty:35,tfs:27.6,legend:[996,49,222,79],title:titles[1],
  redBands:[fextRedBand,fextRedBandHigh],redLines:[fextRedA,fextRedB,fextRedC,fextRedD,fextRedE,fextRedF,fextRedG,fextRedH,fextRedI,fextRedJ],redSpikes:fextRedSpikes,
  blueBands:[fextBlueBand],blueSpikes:fextBlueSpikes,blueStrands:[fextBlueStrandA,fextBlueStrandB,fextBlueStrandC]},1);

/* ---------- Lower schematic drawings ---------- */
const portNames=["Port 1","Port 2","Port 3","Port 4"];
function diagram(o){
  const g=svg.append("g").attr("transform",`translate(${o.dx},0)`);
  const GR="#817f7d",DK="#444",LN="#6a6a6a";
  g.append("rect").attr("x",97).attr("y",571).attr("width",412).attr("height",163).attr("fill",GR);
  g.append("rect").attr("x",300).attr("y",732).attr("width",209).attr("height",2).attr("fill","#fff");
  [[166,571,166,734,1,LN],[172,571,172,734,1,LN],[176,571,176,634,1,LN],[188,571,188,734,2.2,DK],[413,571,413,734,2.2,DK],[427,571,427,734,1,LN],[433,571,433,734,1,LN],[97,657,188,657,1.6,"#a3a3a3"],[413,643,509,643,1,LN]].forEach(s=>
    g.append("line").attr("x1",s[0]).attr("y1",s[1]).attr("x2",s[2]).attr("y2",s[3]).attr("stroke-width",s[4]).attr("stroke",s[5]));
  g.append("rect").attr("x",170).attr("y",634).attr("width",18).attr("height",26).attr("fill","#777").attr("stroke",LN);
  g.append("rect").attr("x",413).attr("y",644).attr("width",20).attr("height",22).attr("fill","#777").attr("stroke",LN);
  [[597,604,610,617],[683,691,697,705]].forEach(r=>{
    g.append("rect").attr("x",189).attr("y",r[1]).attr("width",223).attr("height",r[2]-r[1]).attr("fill","#8d8b89");
    g.append("path").attr("d",`M190,${r[0]}H412L405,${r[1]}H197Z`).attr("fill","#f00808");
    g.append("path").attr("d",`M197,${r[2]}H405L412,${r[3]}H190Z`).attr("fill","#f00808");
    g.append("rect").attr("x",188).attr("y",r[1]+1).attr("width",20).attr("height",3.5).attr("fill","#cfccc4");
    g.append("rect").attr("x",394).attr("y",r[1]+3).attr("width",19).attr("height",3.5).attr("fill","#cfccc4");
  });
  [593,620,680,708].forEach(cy=>{
    g.append("rect").attr("x",189).attr("y",cy-3.5).attr("width",223).attr("height",7).attr("fill","#8b8987");
    g.append("g").selectAll("circle").data(d3.range(193,411,6.95)).join("circle").attr("cx",d=>d).attr("cy",cy).attr("r",1.9).attr("fill","#c9c9c9").attr("stroke","#5c5c5c").attr("stroke-width",.6);
  });
  g.append("g").selectAll("circle").data([580,593,620,633,667,680,708,721]).join("circle").attr("cx",300).attr("cy",d=>d).attr("r",3.3).attr("fill","none").attr("stroke","#4a4a4a").attr("stroke-width",1.1);
  g.append("path").attr("d","M188,645H249V658H188").attr("fill","none").attr("stroke",DK).attr("stroke-width",1.4);
  g.append("path").attr("d","M413,644H352V658H413").attr("fill","none").attr("stroke",DK).attr("stroke-width",1.4);
  g.append("line").attr("x1",188).attr("x2",188).attr("y1",645).attr("y2",660).attr("stroke","#ddd").attr("stroke-width",1.4);
  g.append("line").attr("x1",352).attr("x2",352).attr("y1",644).attr("y2",660).attr("stroke","#ddd").attr("stroke-width",1.4);
  o.arrows(g);
  const PORT=[[16,586,85,112,601,0],[535.5,586,501,535.5,601,1],[16,679,85,112,694,2],[534,679,499,534,691,3]];
  PORT.forEach(p=>{
    g.append("line").attr("x1",p[2]).attr("x2",p[3]).attr("y1",p[4]).attr("y2",p[4]).attr("stroke","#f00").attr("stroke-width",2.2);
    g.append("rect").attr("x",p[0]).attr("y",p[1]).attr("width",69).attr("height",30).attr("fill","#fff").attr("stroke","#f33").attr("stroke-width",1.3);
    if(p[5]===0) g.append("rect").attr("x",p[0]+10.5).attr("y",591).attr("width",39.5).attr("height",20).attr("fill","#ffff00");
    g.append("text").text(portNames[p[5]]).attr("x",p[0]+30).attr("y",p[1]+20).attr("text-anchor","middle").attr("font-family",CAL).attr("font-size",15).attr("fill","#111");
  });
  g.append("rect").attr("x",4).attr("y",673).attr("width",o.cyanW).attr("height",48).attr("fill","none").attr("stroke","#12eeee").attr("stroke-width",2.6);
  const t=o.tbox;
  g.append("rect").attr("x",t[0]).attr("y",t[1]).attr("width",t[2]).attr("height",30).attr("fill","#fff").attr("stroke",o.color).attr("stroke-width",1.4);
  g.append("text").text(o.title).attr("x",t[0]+t[2]/2-3).attr("y",t[1]+20).attr("text-anchor","middle").attr("font-family",CAL).attr("font-weight","700").attr("font-size",14.7).attr("fill",o.color);
}
function marker(id,c){
  svg.append("defs").append("marker").attr("id",id).attr("viewBox","0 0 10 10").attr("refX",9).attr("refY",5).attr("markerWidth",4.2).attr("markerHeight",4.2).attr("orient","auto").append("path").attr("d","M0,0L10,5L0,10Z").attr("fill",c);
}
marker("mG","#1fd42a");marker("mB","#2200dd");
diagram({dx:0,title:"Near-end Crosstalk (NEXT)",color:"#13ad52",tbox:[202,537,201],cyanW:609,arrows:g=>{
  [[385,608,336,617],[330,618,330,658],[330,665,377,683]].forEach(a=>g.append("line").attr("x1",a[0]).attr("y1",a[1]).attr("x2",a[2]).attr("y2",a[3]).attr("stroke","#1fd42a").attr("stroke-width",3).attr("stroke-dasharray","3 3.4").attr("marker-end","url(#mG)"));
}});
diagram({dx:622,title:"Far-end Crosstalk (FEXT)",color:"#2200cc",tbox:[216,529,190],cyanW:620,arrows:g=>{
  [[216,605,264,605],[266,612,344,681],[342,694,390,694]].forEach(a=>g.append("line").attr("x1",a[0]).attr("y1",a[1]).attr("x2",a[2]).attr("y2",a[3]).attr("stroke","#2200dd").attr("stroke-width",2.6).attr("marker-end","url(#mB)"));
}});
svg.append("rect").attr("x",579).attr("y",745).attr("width",69).attr("height",29).attr("fill","#000").attr("stroke","#12eeee").attr("stroke-width",3);
svg.append("text").text("Victim").attr("x",610.5).attr("y",765).attr("text-anchor","middle").attr("font-family",CAL).attr("font-style","italic").attr("font-weight","700").attr("font-size",14).attr("text-decoration","underline").attr("fill","#19e6e6");
</script></body></html>
